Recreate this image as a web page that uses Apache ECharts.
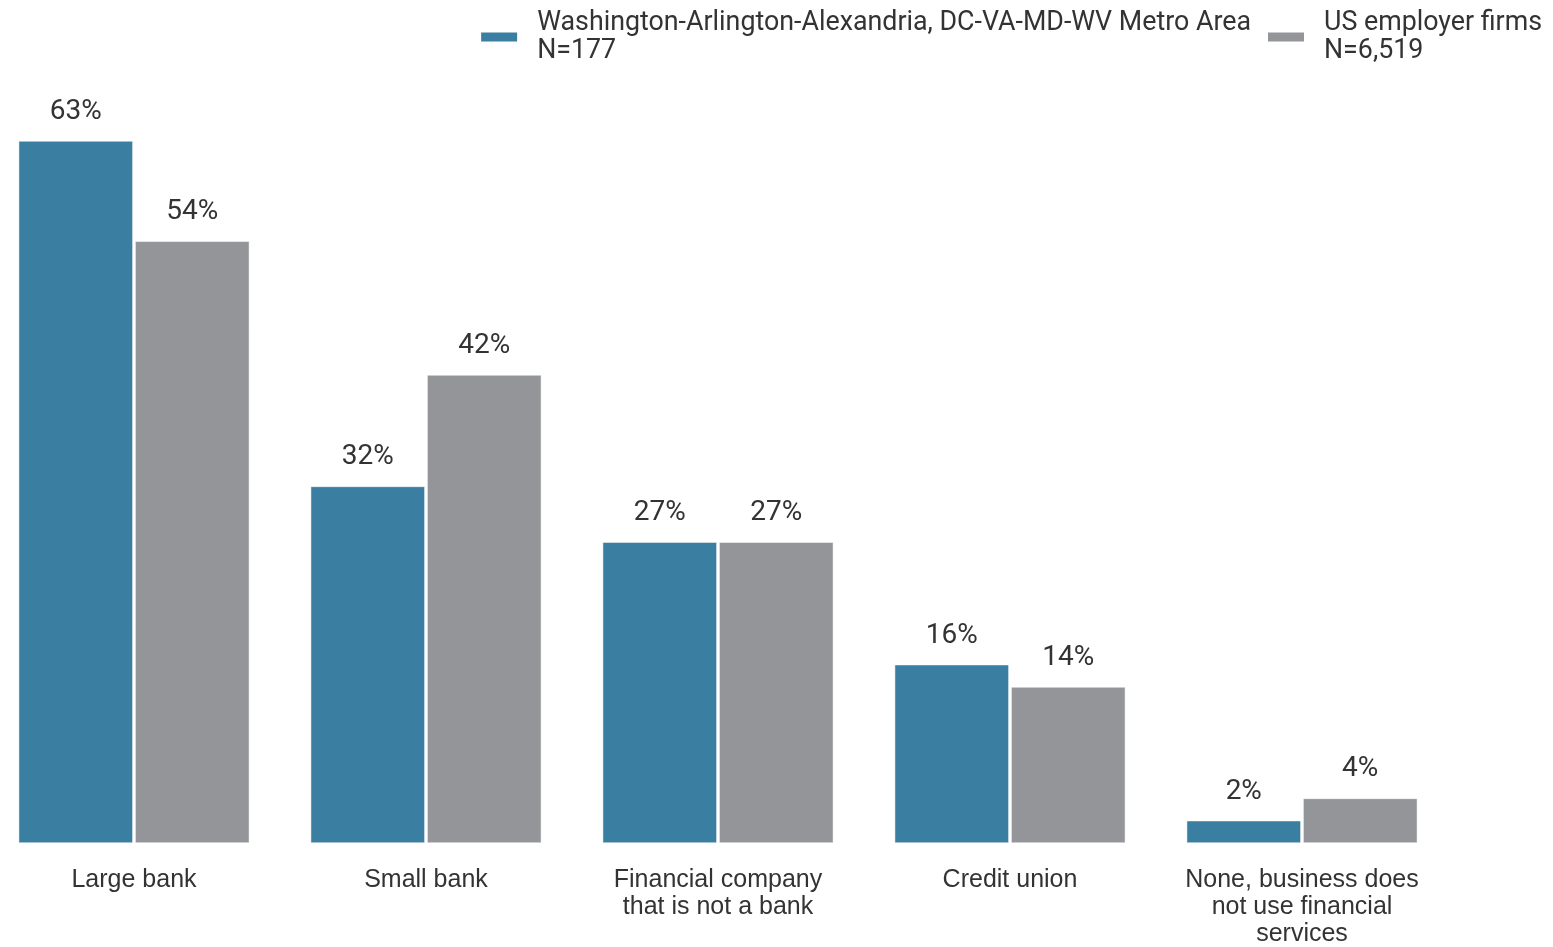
<!DOCTYPE html>
<html><head><meta charset="utf-8">
<script src="https://cdn.jsdelivr.net/npm/echarts@6/dist/echarts.min.js"></script>
<style>html,body{margin:0;padding:0;background:#fff}#c{width:1553px;height:947px}</style>
</head><body><div id="c"></div>
<script>
const categories = ['Large bank', 'Small bank', 'Financial company\nthat is not a bank', 'Credit union', 'None, business does\nnot use financial\nservices'];
const seriesNames = ['Washington-Arlington-Alexandria, DC-VA-MD-WV Metro Area\nN=177', 'US employer firms\nN=6,519'];
const metroValues = [63, 32, 27, 16, 2];
const usValues = [54, 42, 27, 14, 4];
const colors = ['#3a7ea1', '#939598'];

const chart = echarts.init(document.getElementById('c'));
const labelCfg = {show: true, position: 'top', distance: 15, formatter: '{c}%', fontFamily: 'Roboto', fontSize: 28, color: '#333'};
chart.setOption({
  animation: false,
  legend: {
    right: 6, top: 4, itemWidth: 38, itemHeight: 11, itemGap: 15,
    textStyle: {fontFamily: 'Roboto', fontSize: 26.8, color: '#333', lineHeight: 28, padding: [0, 0, 0, 14]},
    data: seriesNames.map((n, i) => ({name: n, icon: 'rect', itemStyle: {color: colors[i]}}))
  },
  grid: {outerBoundsMode: 'none', left: -12, width: 1460, top: 63, bottom: 104, containLabel: false},
  xAxis: {
    type: 'category', data: categories,
    axisLine: {show: false}, axisTick: {show: false},
    axisLabel: {interval: 0, margin: 24, fontFamily: 'Liberation Sans', fontSize: 25, lineHeight: 27, color: '#333'}
  },
  yAxis: {type: 'value', min: 0, max: 70, show: false, splitLine: {show: false}},
  series: [
    {name: seriesNames[0], type: 'bar', data: metroValues, barGap: '2%', barCategoryGap: '21%',
     itemStyle: {color: colors[0], borderColor: '#fff', borderWidth: 0.5}, label: labelCfg},
    {name: seriesNames[1], type: 'bar', data: usValues,
     itemStyle: {color: colors[1], borderColor: '#fff', borderWidth: 0.5}, label: labelCfg}
  ]
});
</script></body></html>
